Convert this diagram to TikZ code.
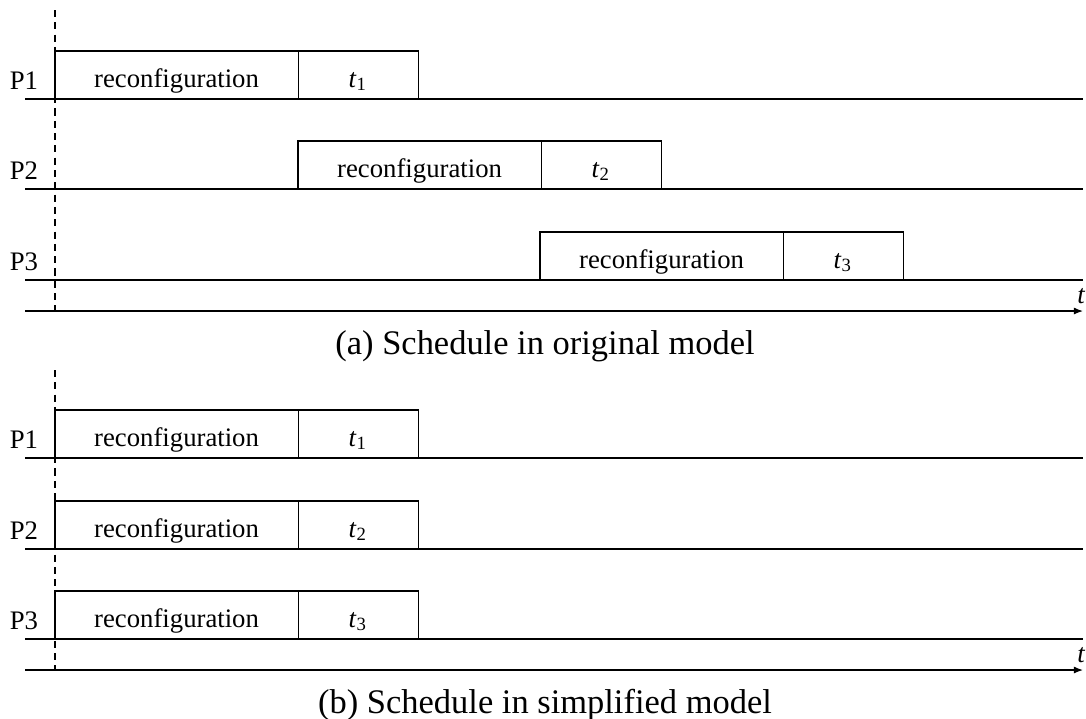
\documentclass[tikz,border=0pt]{standalone}
\usepackage{fontspec}
\setmainfont{Liberation Serif}
\usetikzlibrary{arrows.meta, positioning}

\newcommand{\boxfont}{\fontsize{7.6}{9}\selectfont}
\newcommand{\schedcapfont}{\fontsize{9.8}{12}\selectfont}
\newcommand{\tsk}[1]{\textit{t}\textsubscript{#1}}

\begin{document}
\begin{tikzpicture}[
  x = 0.01cm, y = -0.01cm,
  node distance = 0pt,
  recbox/.style = {
    rectangle, draw=black, line width=0.3pt,
    minimum width=2.43cm, minimum height=0.48cm,
    text height=1.6ex, text depth=0.1ex,
    inner sep=0pt, outer sep=0pt, font=\boxfont
  },
  taskbox/.style = {recbox, minimum width=1.2cm},
  proclabel/.style = {font=\boxfont, inner sep=0pt, anchor=base},
  procline/.style = {line width=0.6pt},
  timearr/.style = {-{Latex[length=2.6pt, width=2pt]}, line width=0.35pt},
  startline/.style = {dash pattern=on 2pt off 1.5pt, line width=0.55pt},
  schedcap/.style = {font=\schedcapfont, inner sep=0pt}
]
\useasboundingbox (0,0) rectangle (1086,718);

% (a) original model: each processor waits for the previous one
\coordinate (a1l) at (25,99);   \coordinate (a1r) at (1083,99);
\coordinate (a2l) at (25,189);  \coordinate (a2r) at (1083,189);
\coordinate (a3l) at (25,280);  \coordinate (a3r) at (1083,280);
\coordinate (atl) at (25,311);  \coordinate (atr) at (1083,311);
\coordinate (atop) at (55,10);  \coordinate (abot) at (55,311);

\node[recbox, anchor=south west] (rec1) at (55,99) {reconfiguration};
\node[taskbox, right=of rec1] (task1) {\tsk{1}};
\node[recbox, anchor=south west] (rec2) at (298,189) {reconfiguration};
\node[taskbox, right=of rec2] (task2) {\tsk{2}};
\node[recbox, anchor=south west] (rec3) at (540,280) {reconfiguration};
\node[taskbox, right=of rec3] (task3) {\tsk{3}};

\node[proclabel] (ap1) at (24,89)  {P1};
\node[proclabel] (ap2) at (24,179) {P2};
\node[proclabel] (ap3) at (24,270) {P3};

\draw[procline] (a1l) -- (a1r);
\draw[procline] (a2l) -- (a2r);
\draw[procline] (a3l) -- (a3r);
\draw[timearr] (atl) -- (atr);
\node[inner sep=0pt, font=\boxfont\itshape] (at) at (1081,296) {t};
\draw[startline] (atop) -- (abot);

\node[schedcap] (capa) at (545,346) {(a) Schedule in original model};

% (b) simplified model: all processors start together
\coordinate (b1l) at (25,458);  \coordinate (b1r) at (1083,458);
\coordinate (b2l) at (25,549);  \coordinate (b2r) at (1083,549);
\coordinate (b3l) at (25,639);  \coordinate (b3r) at (1083,639);
\coordinate (btl) at (25,670);  \coordinate (btr) at (1083,670);
\coordinate (btop) at (55,370); \coordinate (bbot) at (55,670);

\node[recbox, anchor=south west] (srec1) at (55,458) {reconfiguration};
\node[taskbox, right=of srec1] (stask1) {\tsk{1}};
\node[recbox, anchor=south west] (srec2) at (55,549) {reconfiguration};
\node[taskbox, right=of srec2] (stask2) {\tsk{2}};
\node[recbox, anchor=south west] (srec3) at (55,639) {reconfiguration};
\node[taskbox, right=of srec3] (stask3) {\tsk{3}};

\node[proclabel] (bp1) at (24,448) {P1};
\node[proclabel] (bp2) at (24,539) {P2};
\node[proclabel] (bp3) at (24,629) {P3};

\draw[procline] (b1l) -- (b1r);
\draw[procline] (b2l) -- (b2r);
\draw[procline] (b3l) -- (b3r);
\draw[timearr] (btl) -- (btr);
\node[inner sep=0pt, font=\boxfont\itshape] (bt) at (1081,655) {t};
\draw[startline] (btop) -- (bbot);

\node[schedcap] (capb) at (545,705) {(b) Schedule in simplified model};
\end{tikzpicture}
\end{document}
